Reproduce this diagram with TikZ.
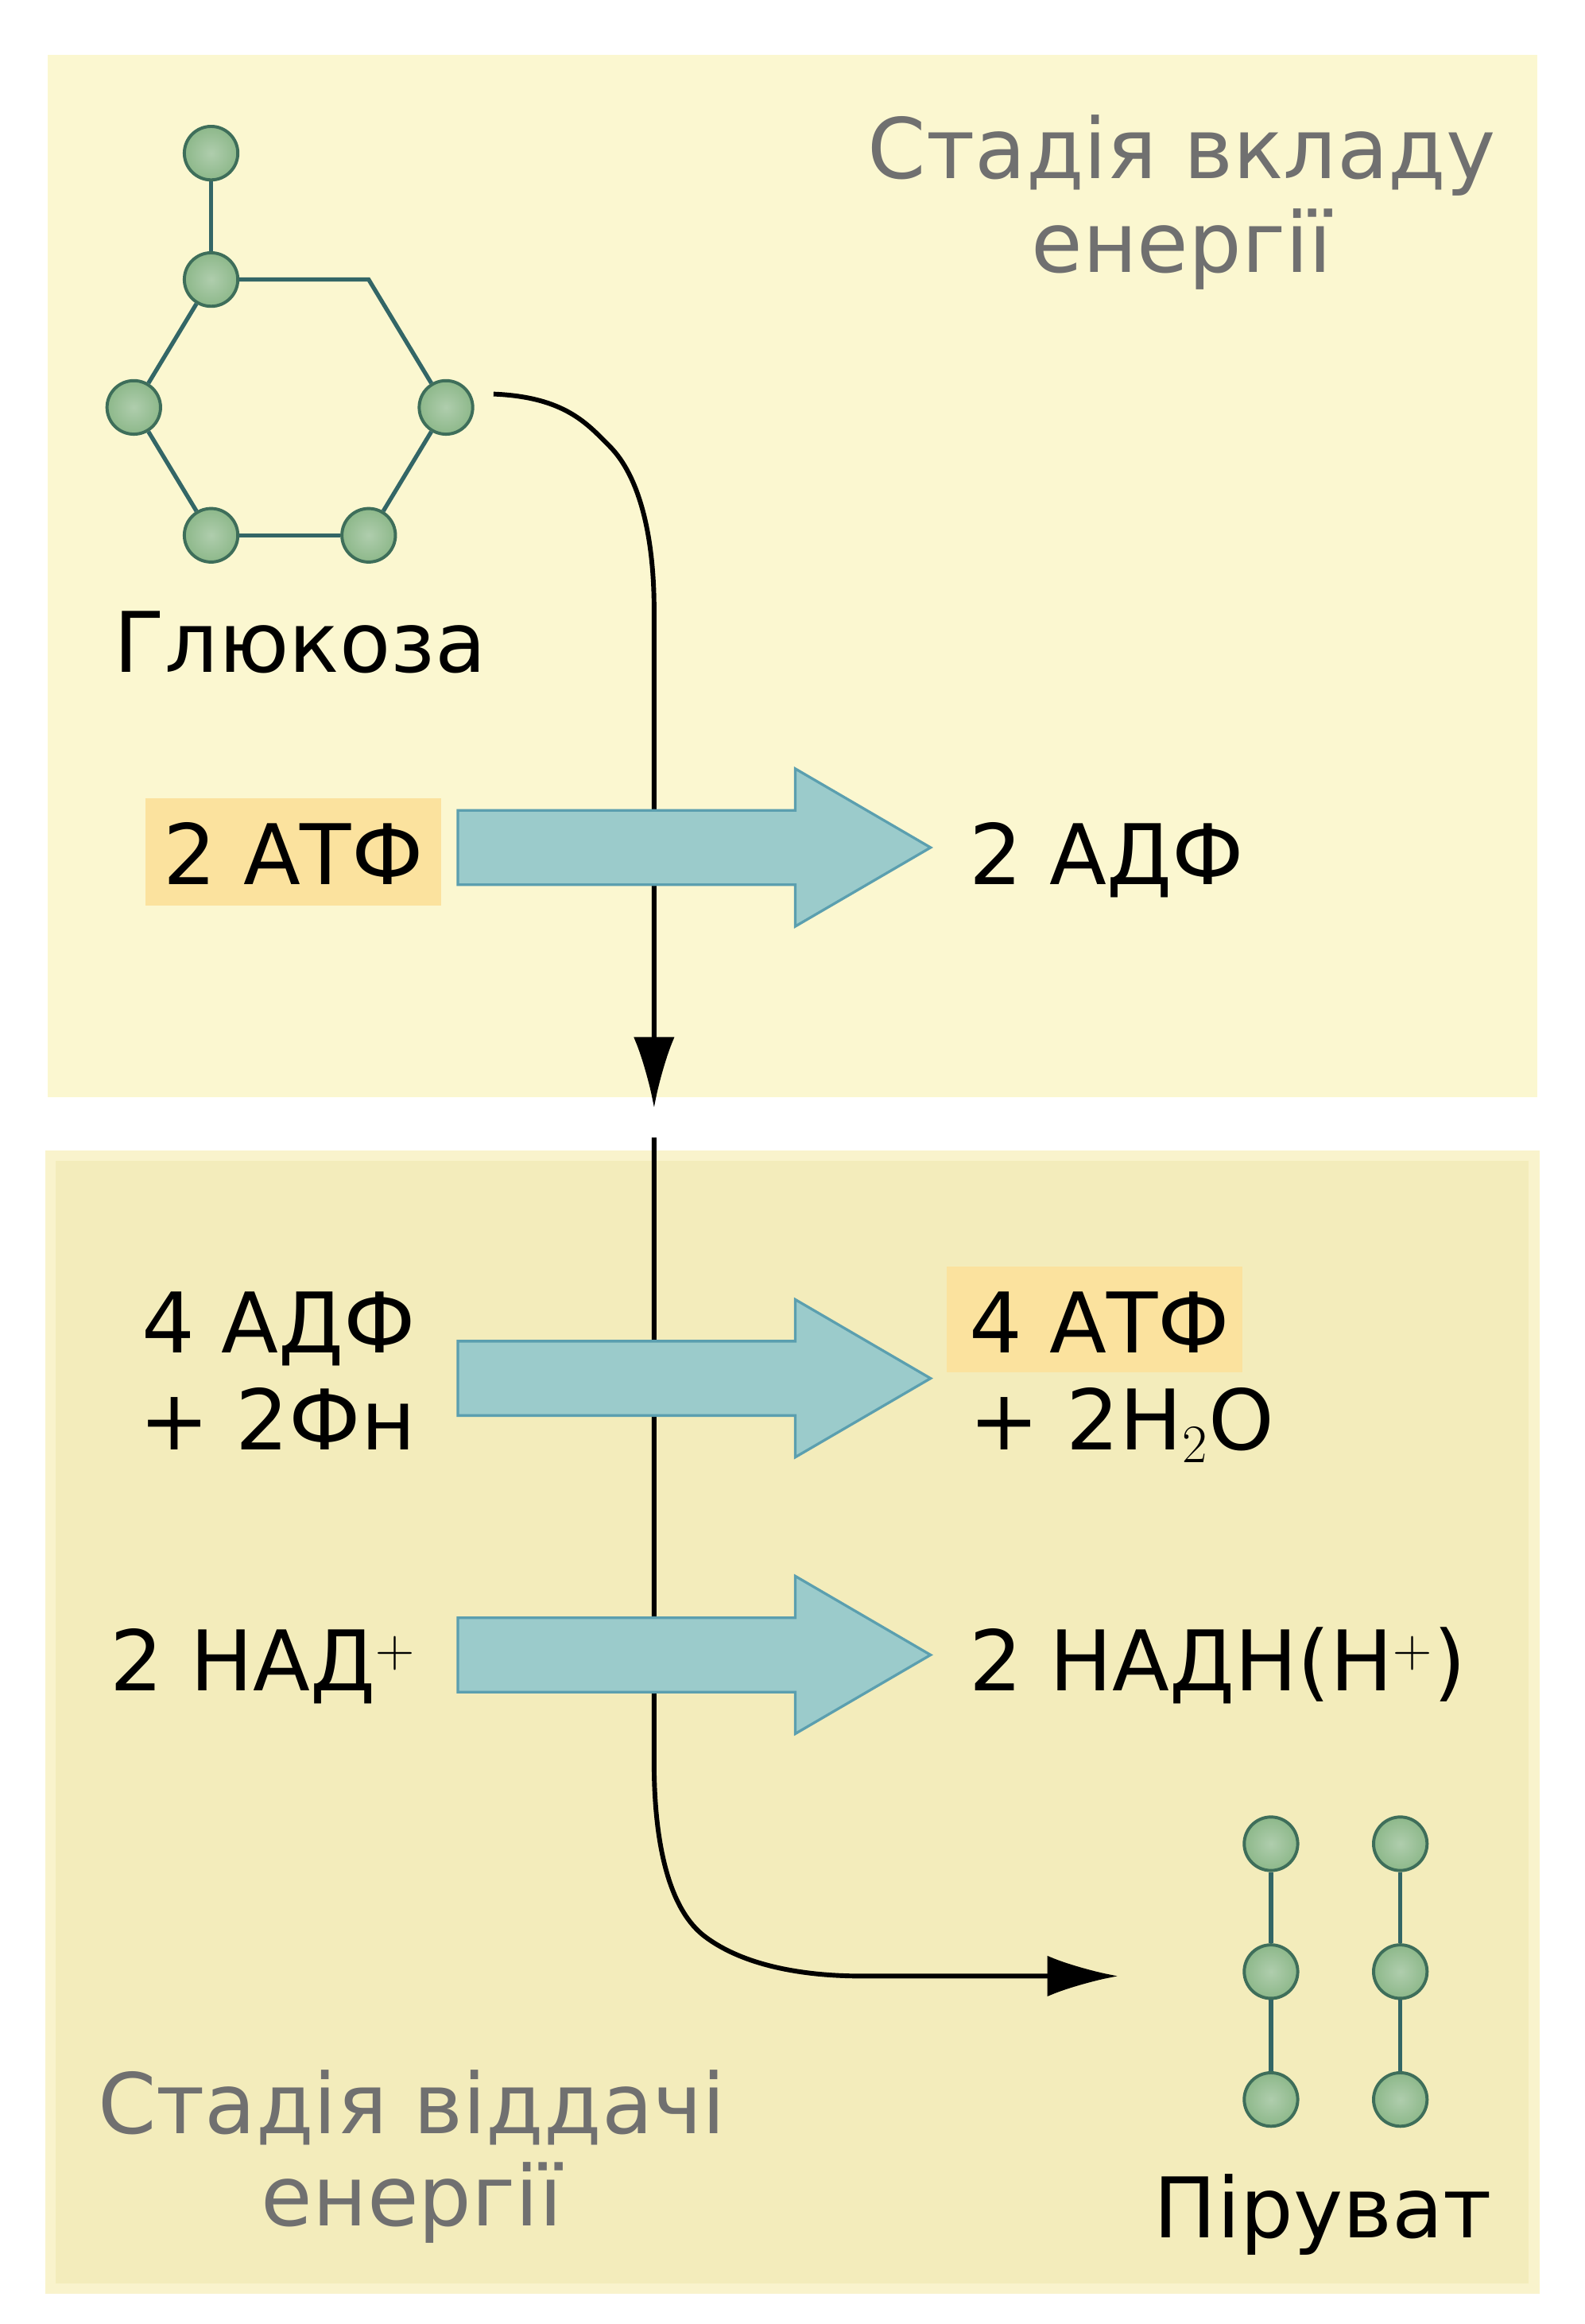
\documentclass[tikz,border=0pt]{standalone}
\usepackage{fontspec}
\setmainfont{DejaVu Sans}
\usetikzlibrary{arrows.meta}
\definecolor{topbg}{HTML}{FBF7D0}
\definecolor{botbg}{HTML}{F3ECBB}
\definecolor{botbd}{HTML}{F9F3CC}
\definecolor{atom}{HTML}{8DB88A}
\definecolor{atomd}{HTML}{3E6E5A}
\definecolor{bond}{HTML}{336666}
\definecolor{arrf}{HTML}{9BCBCB}
\definecolor{arrd}{HTML}{5B9FAF}
\definecolor{hl}{HTML}{FBE29E}
\definecolor{ttl}{HTML}{707070}
\tikzset{
 atomc/.style={circle,minimum size=36*0.02cm,inner sep=0pt,draw=atomd,line width=1.2pt,inner color=atom!70!white,outer color=atom},
 bondl/.style={bond,line width=1.6pt},
 lbl/.style={font=\fontsize{32}{38}\selectfont,inner sep=0pt},
 ttlf/.style={lbl,text=ttl,align=center},
 flow/.style={line width=1.8pt,-{Latex[length=0.95cm,width=0.55cm]}},
 bigarr/.style={fill=arrf,draw=arrd,line width=1pt},
}
\newcommand{\bigarrow}[1]{\draw[bigarr] (308,#1-25) -- (535,#1-25) -- (535,#1-53) -- (626,#1) -- (535,#1+53) -- (535,#1+25) -- (308,#1+25) -- cycle;}
\begin{document}
\begin{tikzpicture}[x=0.02cm,y=-0.02cm]
\useasboundingbox (0,0) rectangle (1066,1563);
\fill[topbg] (32,37) rectangle (1034,738);
\fill[botbg,draw=botbd,line width=4pt] (34,777) rectangle (1032,1539);
% glucose
\node[atomc] (g0) at (142,103) {};
\node[atomc] (g1) at (142,188) {};
\node[atomc] (g2) at (90,274) {};
\node[atomc] (g3) at (142,360) {};
\node[atomc] (g4) at (248,360) {};
\node[atomc] (g5) at (300,274) {};
\coordinate (gv) at (248,188);
\begin{scope}[on background layer/.style={}]
\end{scope}
\draw[bondl] (g0) -- (g1);
\draw[bondl] (g1) -- (g2);
\draw[bondl] (g2) -- (g3);
\draw[bondl] (g3) -- (g4);
\draw[bondl] (g4) -- (g5);
\draw[bondl] (g5) -- (gv) -- (g1);
\node[lbl,anchor=base] (glu) at (202,452) {Глюкоза};
\node[ttlf,anchor=base] (t1) at (795,120) {Стадія вкладу};
\node[ttlf,anchor=base] (t2) at (795,183) {енергії};
\node[ttlf,anchor=base] (t3) at (277,1435) {Стадія віддачі};
\node[ttlf,anchor=base] (t4) at (277,1497) {енергії};
% pyruvate
\foreach \c/\x in {a/855,b/942}{
 \node[atomc] (p\c1) at (\x,1240) {};
 \node[atomc] (p\c2) at (\x,1326) {};
 \node[atomc] (p\c3) at (\x,1412) {};
 \draw[bondl] (p\c1) -- (p\c2);
 \draw[bondl] (p\c2) -- (p\c3);
}
\node[lbl,anchor=base] (pir) at (890,1505) {Піруват};
% main flow
\coordinate (s1) at (332,265);
\coordinate (e1) at (440,745);
\coordinate (s2) at (440,765);
\coordinate (e2) at (752,1329);
\draw[flow] (s1) .. controls (380,267) and (395,285) .. (410,300) .. controls (430,320) and (440,360) .. (440,410) -- (e1);
\draw[flow] (s2) -- (440,1185) .. controls (440,1240) and (450,1285) .. (475,1303) .. controls (505,1325) and (550,1329) .. (580,1329) -- (e2);
% big arrows
\bigarrow{570}
\bigarrow{927}
\bigarrow{1113}
% labels
\fill[hl] (98,537) rectangle (297,609);
\fill[hl] (637,852) rectangle (836,923);
\node[lbl,anchor=base] (atp1) at (197.5,595) {2 АТФ};
\node[lbl,anchor=base west] (adp1) at (652,595) {2 АДФ};
\node[lbl,anchor=base east] (adp2) at (280,910) {4 АДФ};
\node[lbl,anchor=base east] (fn) at (280,975) {+ 2Фн};
\node[lbl,anchor=base west] (atp2) at (652,910) {4 АТФ};
\node[lbl,anchor=base west] (h2o) at (652,975) {+ 2H$_2$O};
\node[lbl,anchor=base east] (nad) at (280,1137) {2 НАД$^+$};
\node[lbl,anchor=base west] (nadh) at (652,1137) {2 НАДН(Н$^+$)};
\end{tikzpicture}
\end{document}
